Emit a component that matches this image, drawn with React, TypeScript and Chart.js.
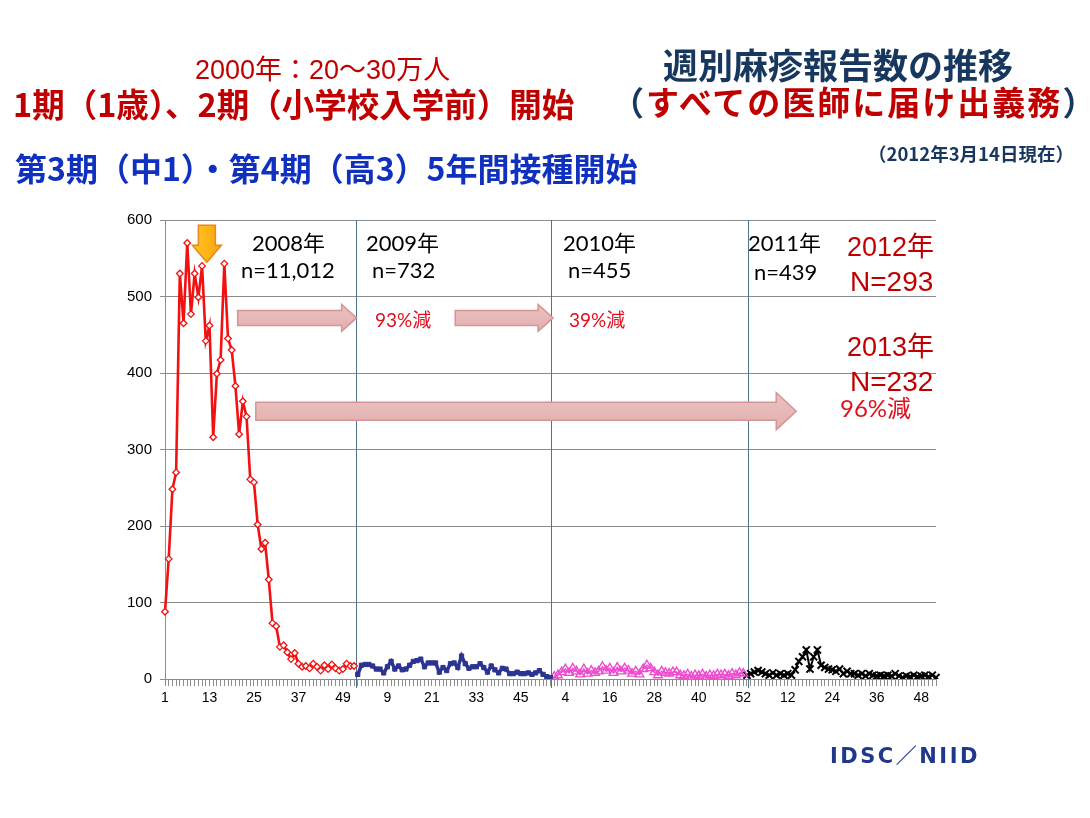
import React, { useEffect, useRef } from "react";
import { Chart, registerables } from "chart.js";

Chart.register(...registerables);

// ---- data ----
const yearWeekCounts = [52, 53, 52, 52]; // 2008, 2009, 2010, 2011
const weekLabels: string[] = yearWeekCounts.flatMap((n) =>
  Array.from({ length: n }, (_, i) => String(i + 1))
);

const cases2008 = [
  88, 157, 248, 270, 530, 465, 570, 477, 530, 499, 540, 442, 462, 316, 399, 417,
  543, 445, 430, 383, 320, 363, 343, 261, 257, 202, 170, 178, 130, 73, 69, 42,
  44, 35, 26, 34, 20, 16, 17, 14, 20, 16, 11, 18, 13, 19, 14, 11, 13, 20, 17, 17,
];
const cases2009 = [
  6, 18, 19, 19, 17, 13, 13, 8, 16, 23, 13, 17, 12, 13, 18, 23, 24, 26, 16, 21,
  21, 21, 9, 15, 11, 20, 21, 15, 30, 20, 14, 16, 16, 20, 15, 9, 17, 12, 8, 14,
  13, 7, 7, 9, 7, 7, 8, 6, 8, 11, 6, 3, 2,
];
const cases2010 = [
  3, 5, 9, 13, 8, 14, 10, 6, 13, 7, 11, 8, 10, 16, 11, 14, 8, 15, 10, 14,
  11, 7, 10, 6, 13, 18, 14, 9, 5, 10, 8, 7, 9, 9, 5, 4, 6, 3, 5, 4,
  6, 3, 5, 4, 6, 5, 6, 4, 7, 5, 8, 7,
];
const cases2011 = [
  5, 7, 9, 11, 9, 7, 5, 8, 5, 7, 5, 7, 5, 12, 23, 29, 38, 13, 29, 38,
  18, 15, 13, 12, 10, 13, 7, 10, 7, 7, 5, 7, 4, 7, 5, 4, 5, 4, 5, 4,
  7, 4, 2, 4, 3, 5, 3, 4, 5, 3, 5, 2,
];
const yMax = 600;
const yStep = 100;
const labelEvery = 12;

// annotation anchors (in category-index / value space)
const yearDividers = [51.6, 104.1, 157.4];
const blockArrows = [
  { from: 19.6, to: 51.7, value: 472, shaft: 15, head: 27, headLen: 15 },
  { from: 78.3, to: 104.7, value: 472, shaft: 15, head: 27, headLen: 15 },
  { from: 24.5, to: 170.3, value: 350, shaft: 18, head: 37, headLen: 20 },
];
const orangeArrow = { index: 11.3, value: 593 };

const yearStarts = yearWeekCounts.map((_, i) =>
  yearWeekCounts.slice(0, i).reduce((a, b) => a + b, 0)
);
const place = (arr: number[], start: number) =>
  weekLabels.map((_, i) => (i >= start && i < start + arr.length ? arr[i - start] : null));

const CJK = '"Noto Sans CJK JP",sans-serif';
const LAT = 'Lato,"Noto Sans CJK JP",sans-serif';
const LIB = '"Liberation Sans","Noto Sans CJK JP",sans-serif';

const texts = [
  { t: "2000年：20～30万人", l: 195, tp: 57, s: 27, c: "#C00000", w: 400, f: LIB },
  { t: "1期（1歳）、2期（小学校入学前）開始", l: 13, tp: 87, s: 32.5, c: "#C00000", w: 700, f: CJK },
  { t: "第3期（中1）・第4期（高3）5年間接種開始", l: 15, tp: 151, s: 32, c: "#1030C0", w: 700, f: CJK },
  { t: "週別麻疹報告数の推移", l: 663, tp: 46, s: 35, c: "#17375E", w: 700, f: CJK },
  { t: "2008年", l: 252, tp: 232, s: 22, c: "#000", w: 400, f: LAT },
  { t: "n=11,012", l: 241, tp: 259, s: 22, c: "#000", w: 400, f: LAT },
  { t: "2009年", l: 366, tp: 232, s: 22, c: "#000", w: 400, f: LAT },
  { t: "n=732", l: 372, tp: 259, s: 22, c: "#000", w: 400, f: LAT },
  { t: "2010年", l: 563, tp: 232, s: 22, c: "#000", w: 400, f: LAT },
  { t: "n=455", l: 568, tp: 259, s: 22, c: "#000", w: 400, f: LAT },
  { t: "2011年", l: 748, tp: 232, s: 22, c: "#000", w: 400, f: LAT },
  { t: "n=439", l: 754, tp: 261, s: 22, c: "#000", w: 400, f: LAT },
  { t: "2012年", l: 847, tp: 234, s: 27, c: "#C00000", w: 400, f: LIB },
  { t: "N=293", l: 850, tp: 268, s: 28, c: "#C00000", w: 400, f: LIB },
  { t: "2013年", l: 847, tp: 334, s: 27, c: "#C00000", w: 400, f: LIB },
  { t: "N=232", l: 850, tp: 368, s: 28, c: "#C00000", w: 400, f: LIB },
  { t: "96%減", l: 840, tp: 396, s: 24, c: "#E0101E", w: 400, f: LAT },
  { t: "93%減", l: 375, tp: 310, s: 19, c: "#E0101E", w: 400, f: LAT },
  { t: "39%減", l: 569, tp: 310, s: 19, c: "#E0101E", w: 400, f: LAT },
  { t: "（2012年3月14日現在）", l: 868, tp: 144, s: 18.5, c: "#17375E", w: 700, f: CJK },
  { t: "IDSC／NIID", l: 830, tp: 746, s: 21, c: "#20388C", w: 700, f: '"DejaVu Sans","Noto Sans CJK JP",sans-serif', ls: 2.5 },
];

function drawBlockArrow(
  ctx: CanvasRenderingContext2D,
  x0: number, x1: number, yc: number,
  shaft: number, head: number, headLen: number
) {
  const hx = x1 - headLen;
  ctx.beginPath();
  ctx.moveTo(x0, yc - shaft / 2);
  ctx.lineTo(hx, yc - shaft / 2);
  ctx.lineTo(hx, yc - head / 2);
  ctx.lineTo(x1, yc);
  ctx.lineTo(hx, yc + head / 2);
  ctx.lineTo(hx, yc + shaft / 2);
  ctx.lineTo(x0, yc + shaft / 2);
  ctx.closePath();
  const g = ctx.createLinearGradient(0, yc - head / 2, 0, yc + head / 2);
  g.addColorStop(0, "#EBC3C2");
  g.addColorStop(1, "#E2AEAD");
  ctx.fillStyle = g;
  ctx.fill();
  ctx.lineWidth = 1.5;
  ctx.strokeStyle = "#D49593";
  ctx.stroke();
}

const decorPlugin = {
  id: "decor",
  beforeDatasetsDraw(chart: any) {
    const { ctx, chartArea, scales } = chart;
    const x = scales.x;
    const y = scales.y;
    ctx.save();
    ctx.strokeStyle = "#4E7494";
    ctx.lineWidth = 1;
    yearDividers.forEach((d) => {
      const px = Math.round(x.getPixelForValue(d)) + 0.5;
      ctx.beginPath();
      ctx.moveTo(px, chartArea.top);
      ctx.lineTo(px, chartArea.bottom + 9);
      ctx.stroke();
    });
    blockArrows.forEach((a) => {
      drawBlockArrow(
        ctx,
        x.getPixelForValue(a.from),
        x.getPixelForValue(a.to),
        y.getPixelForValue(a.value),
        a.shaft, a.head, a.headLen
      );
    });
    ctx.restore();
  },
  afterDatasetsDraw(chart: any) {
    const { ctx, scales } = chart;
    const cx = scales.x.getPixelForValue(orangeArrow.index);
    const top = scales.y.getPixelForValue(orangeArrow.value);
    ctx.save();
    const sw = 17, hw = 29, sh = 20, hh = 17;
    ctx.beginPath();
    ctx.moveTo(cx - sw / 2, top);
    ctx.lineTo(cx + sw / 2, top);
    ctx.lineTo(cx + sw / 2, top + sh);
    ctx.lineTo(cx + hw / 2, top + sh);
    ctx.lineTo(cx, top + sh + hh);
    ctx.lineTo(cx - hw / 2, top + sh);
    ctx.lineTo(cx - sw / 2, top + sh);
    ctx.closePath();
    const g = ctx.createLinearGradient(cx - hw / 2, 0, cx + hw / 2, 0);
    g.addColorStop(0, "#FFC52E");
    g.addColorStop(0.5, "#FDB515");
    g.addColorStop(1, "#F7A21B");
    ctx.fillStyle = g;
    ctx.fill();
    ctx.lineWidth = 1.5;
    ctx.strokeStyle = "#E9881A";
    ctx.stroke();
    ctx.restore();
  },
};

export default function App() {
  const canvasRef = useRef<HTMLCanvasElement | null>(null);

  useEffect(() => {
    if (!canvasRef.current) return;
    const yFont = { family: '"Liberation Sans", Arial, sans-serif', size: 15 };
    const xFont = { family: '"Liberation Sans", Arial, sans-serif', size: 14 };
    const chart = new Chart(canvasRef.current, {
      type: "line",
      data: {
        labels: weekLabels,
        datasets: [
          {
            data: place(cases2008, yearStarts[0]),
            borderColor: "#F21010",
            borderWidth: 2.6,
            pointStyle: "rectRot",
            pointRadius: 3.3,
            pointBackgroundColor: "#FFFFFF",
            pointBorderColor: "#F21010",
            pointBorderWidth: 1.3,
            tension: 0,
            spanGaps: false,
          },
          {
            data: place(cases2009, yearStarts[1]),
            borderColor: "#2B3591",
            borderWidth: 3.5,
            pointStyle: "rect",
            pointRadius: 3,
            pointBackgroundColor: "#2B3591",
            pointBorderColor: "#2B3591",
            pointBorderWidth: 1,
            tension: 0,
          },
          {
            data: place(cases2010, yearStarts[2]),
            borderColor: "#EE4BCF",
            borderWidth: 1.5,
            pointStyle: "triangle",
            pointRadius: 5,
            pointBackgroundColor: "rgba(255,255,255,0)",
            pointBorderColor: "#EE4BCF",
            pointBorderWidth: 1.4,
            tension: 0,
          },
          {
            data: place(cases2011, yearStarts[3]),
            borderColor: "#000000",
            borderWidth: 2,
            pointStyle: "crossRot",
            pointRadius: 5,
            pointBorderColor: "#000000",
            pointBorderWidth: 2,
            tension: 0,
          },
        ],
      },
      options: {
        animation: false,
        responsive: false,
        maintainAspectRatio: false,
        layout: { padding: { left: 0, top: 220, right: 154, bottom: 109 } },
        plugins: { legend: { display: false }, tooltip: { enabled: false } },
        scales: {
          x: {
            type: "category",
            offset: false,
            grid: { display: true, drawOnChartArea: false, drawTicks: true, tickLength: 7, color: "#8C8C8C" },
            border: { color: "#8C8C8C" },
            ticks: {
              autoSkip: false,
              maxRotation: 0,
              minRotation: 0,
              padding: 4,
              color: "#000",
              font: xFont,
              callback: (_v: any, i: number) => (i % labelEvery === 0 ? weekLabels[i] : ""),
            },
            afterFit: (s: any) => {
              s.height = 30;
            },
          },
          y: {
            min: 0,
            max: yMax,
            grid: { color: "#8C8C8C", tickLength: 5 },
            border: { color: "#8C8C8C" },
            ticks: { stepSize: yStep, padding: 8, color: "#000", font: yFont },
            afterFit: (s: any) => {
              s.width = 165;
            },
          },
        },
      },
      plugins: [decorPlugin],
    } as any);
    return () => chart.destroy();
  }, []);

  return (
    <div style={{ position: "absolute", left: 0, top: 0, width: 1090, height: 818, background: "#fff", overflow: "hidden" }}>
      <canvas ref={canvasRef} width={1090} height={818} style={{ position: "absolute", left: 0, top: 0, width: 1090, height: 818 }} />
      {texts.map((x, i) => (
        <div
          key={i}
          style={{
            position: "absolute",
            left: x.l,
            top: x.tp,
            fontSize: x.s,
            color: x.c,
            fontWeight: x.w,
            fontFamily: x.f,
            lineHeight: 1,
            whiteSpace: "nowrap",
            letterSpacing: (x as any).ls ? (x as any).ls : 0,
          }}
        >
          {x.t}
        </div>
      ))}
      <div
        style={{
          position: "absolute",
          left: 611,
          top: 85,
          fontSize: 33,
          fontWeight: 700,
          fontFamily: CJK,
          lineHeight: 1,
          whiteSpace: "nowrap",
          letterSpacing: 2,
          color: "#17375E",
        }}
      >
        （<span style={{ color: "#C00000" }}>すべての医師に届け出義務</span>）
      </div>
    </div>
  );
}
